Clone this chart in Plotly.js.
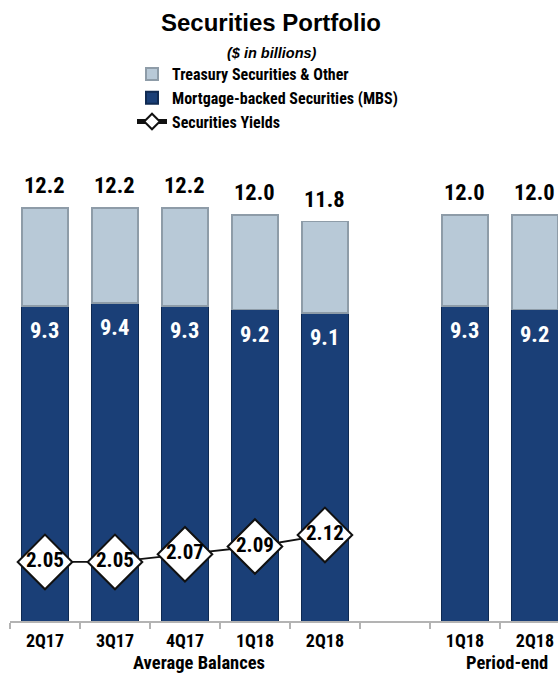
<!DOCTYPE html>
<html>
<head>
<meta charset="utf-8">
<script src="https://cdn.plot.ly/plotly-3.0.1.min.js"></script>
<style>html,body{margin:0;padding:0;background:#fff;}#chart{width:558px;height:674px;}</style>
</head>
<body>
<div id="chart"></div>
<script>
// ---- data ----
const avgLabels = ['2Q17', '3Q17', '4Q17', '1Q18', '2Q18'];
const periodLabels = ['1Q18', '2Q18'];
const totalValues = [12.2, 12.2, 12.2, 12.0, 11.8, 12.0, 12.0];
const mbsValues = [9.3, 9.4, 9.3, 9.2, 9.1, 9.3, 9.2];
const yieldValues = [2.05, 2.05, 2.07, 2.09, 2.12];
const seriesNames = ['Treasury Securities & Other', 'Mortgage-backed Securities (MBS)', 'Securities Yields'];
const groupTitles = ['Average Balances', 'Period-end'];

// ---- positions (gap between the two groups) ----
const xPos = avgLabels.map((_, i) => i).concat(periodLabels.map((_, i) => avgLabels.length + 1 + i));
const tickText = avgLabels.concat(periodLabels);
const treasuryValues = totalValues.map((t, i) => +(t - mbsValues[i]).toFixed(2));
const yieldX = xPos.slice(0, yieldValues.length);

const NARROW = '"Roboto Condensed", "Liberation Sans Narrow", "Liberation Sans", Arial, sans-serif';
const SANS = '"Liberation Sans", Arial, sans-serif';

const traces = [
  {
    type: 'bar', name: seriesNames[1], x: xPos, y: mbsValues, width: 0.66,
    marker: {color: '#1a3f77', line: {color: '#0f2a52', width: 1}},
    hoverinfo: 'skip', legendrank: 2
  },
  {
    type: 'bar', name: seriesNames[0], x: xPos, y: treasuryValues, width: 0.66,
    marker: {color: '#b8c9d7', line: {color: '#8e9ca8', width: 1.5}},
    hoverinfo: 'skip', legendrank: 1
  },
  {
    type: 'scatter', name: seriesNames[2], x: yieldX, y: yieldValues, yaxis: 'y2',
    mode: 'lines+markers+text', text: yieldValues.map(v => v.toFixed(2)),
    textposition: 'middle center',
    textfont: {family: NARROW, size: 21, color: '#000', weight: 700},
    line: {color: '#111', width: 1.8},
    marker: {symbol: 'diamond', size: 42, color: '#fff', line: {color: '#111', width: 2}},
    hoverinfo: 'skip', legendrank: 3
  }
];

const annotations = [];
xPos.forEach((x, i) => {
  annotations.push({
    x: x, y: totalValues[i], xref: 'x', yref: 'y', text: totalValues[i].toFixed(1),
    showarrow: false, yanchor: 'bottom', yshift: 8,
    font: {family: NARROW, size: 22.5, color: '#000', weight: 700}
  });
  annotations.push({
    x: x, y: mbsValues[i], xref: 'x', yref: 'y', text: mbsValues[i].toFixed(1),
    showarrow: false, yanchor: 'top', yshift: -9,
    font: {family: NARROW, size: 22.5, color: '#fff', weight: 700}
  });
});
annotations.push({
  x: 2.2, y: (621 - 663) / 471, xref: 'x', yref: 'paper', text: groupTitles[0], showarrow: false,
  yanchor: 'middle', font: {family: NARROW, size: 18.5, color: '#000', weight: 700}
});
annotations.push({
  x: 6.6, y: (621 - 662.5) / 471, xref: 'x', yref: 'paper', text: groupTitles[1], showarrow: false,
  yanchor: 'middle', font: {family: NARROW, size: 18.5, color: '#000', weight: 700}
});
annotations.push({
  x: (272 - 10) / 548, y: (621 - 53) / 471, xref: 'paper', yref: 'paper', text: '($ in billions)',
  showarrow: false, yanchor: 'middle', xanchor: 'center',
  font: {family: SANS, size: 14.5, color: '#000', weight: 700, style: 'italic'}
});

const layout = {
  width: 558, height: 674,
  margin: {l: 10, r: 0, t: 150, b: 53},
  paper_bgcolor: '#fff', plot_bgcolor: '#fff',
  barmode: 'stack',
  showlegend: true,
  title: {
    text: 'Securities Portfolio', x: 271 / 558, xref: 'container', xanchor: 'center',
    y: 1 - 23 / 674, yref: 'container', yanchor: 'middle',
    font: {family: SANS, size: 24, color: '#000', weight: 700}
  },
  legend: {
    x: (132 - 10) / 548, y: (621 - 57) / 471, xanchor: 'left', yanchor: 'top',
    font: {family: NARROW, size: 16, color: '#000', weight: 700},
    bgcolor: 'rgba(0,0,0,0)', itemsizing: 'constant', traceorder: 'normal',
    itemclick: false, itemdoubleclick: false
  },
  xaxis: {
    range: [-0.5, 7.33], fixedrange: true,
    tickmode: 'array', tickvals: xPos, ticktext: tickText, ticks: '',
    ticklabelstandoff: 3,
    tickfont: {family: NARROW, size: 18, color: '#000', weight: 700},
    showgrid: false, zeroline: false,
    showline: true, linecolor: '#b3b3b3', linewidth: 1.5,
    minor: {tick0: 0.5, dtick: 1, ticks: 'outside', ticklen: 6, tickcolor: '#b3b3b3', tickwidth: 1.5, showgrid: false}
  },
  yaxis: {
    range: [0, 471 / 33.85], visible: false, fixedrange: true, showgrid: false, zeroline: false
  },
  yaxis2: {
    range: [1.897, 1.897 + 471 / 386], overlaying: 'y', visible: false, fixedrange: true,
    showgrid: false, zeroline: false
  },
  annotations: annotations
};

Plotly.newPlot('chart', traces, layout, {displayModeBar: false, staticPlot: true});
</script>
</body>
</html>
